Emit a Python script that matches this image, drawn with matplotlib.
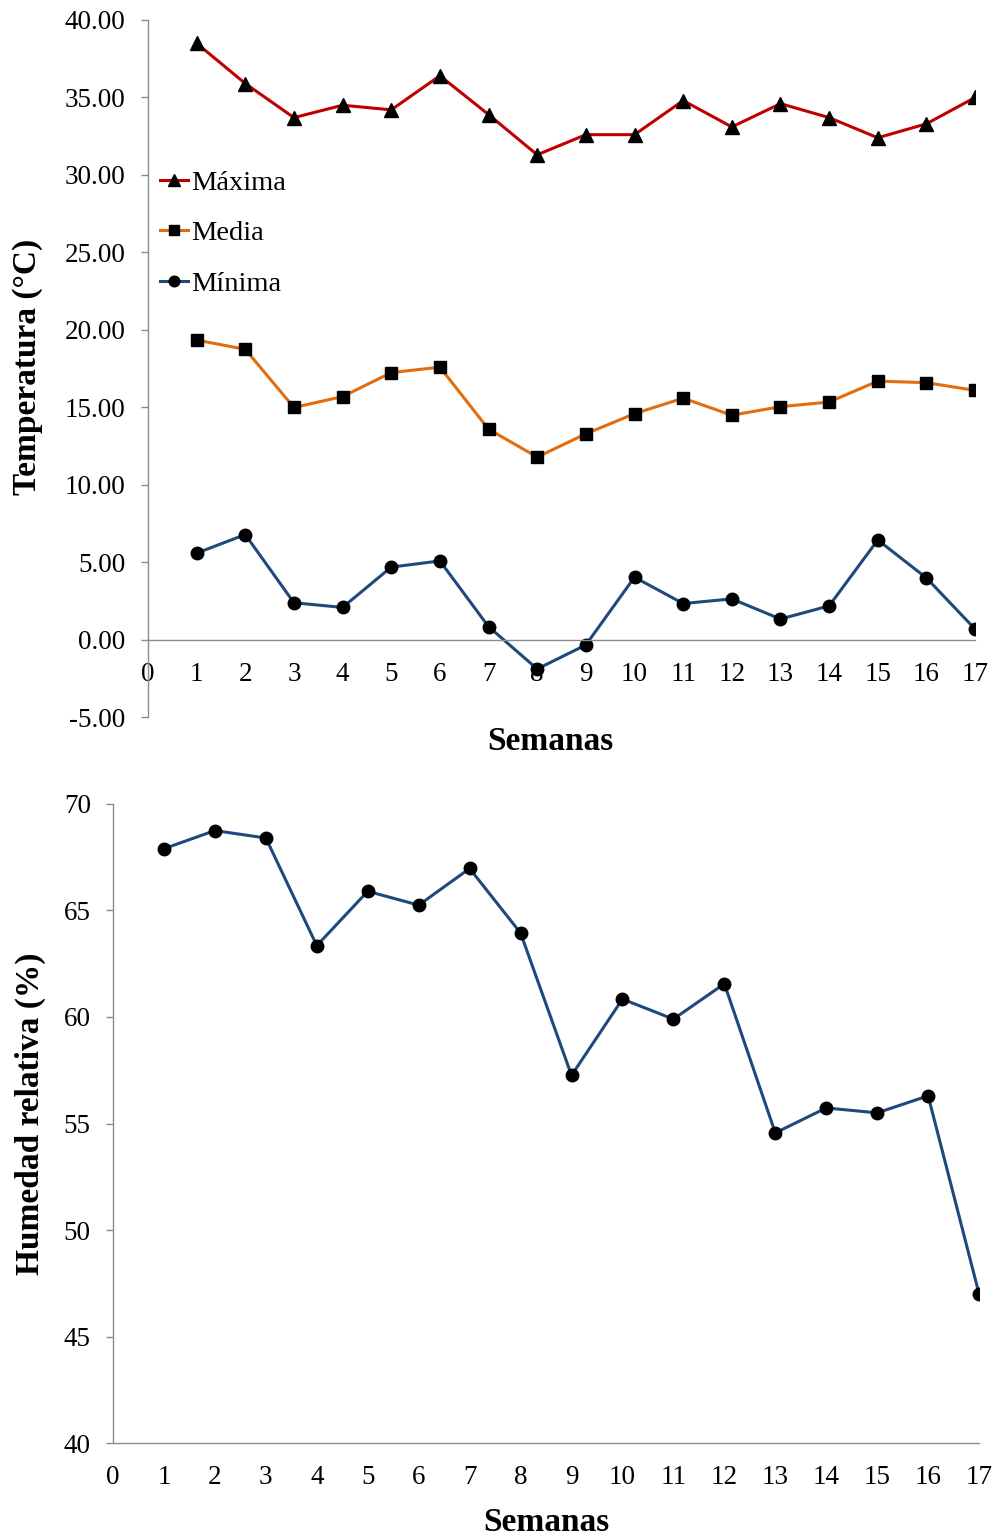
"""Weekly air temperature (max / mean / min) and relative humidity."""

import numpy as np
import matplotlib
matplotlib.use("Agg")
import matplotlib.pyplot as plt
from matplotlib.ticker import FuncFormatter

plt.rcParams["font.family"] = ["Liberation Serif", "DejaVu Serif"]
plt.rcParams["axes.unicode_minus"] = False

semanas = np.arange(1, 18)

t_max = [38.5, 35.9, 33.7, 34.5, 34.2, 36.4, 33.9, 31.3, 32.6, 32.6,
         34.8, 33.1, 34.6, 33.7, 32.4, 33.3, 35.0]
t_media = [19.35, 18.75, 15.0, 15.7, 17.25, 17.6, 13.6, 11.8, 13.3, 14.6,
           15.6, 14.5, 15.05, 15.35, 16.7, 16.6, 16.1]
t_min = [5.6, 6.8, 2.4, 2.1, 4.7, 5.1, 0.86, -1.87, -0.32, 4.05,
         2.35, 2.65, 1.35, 2.2, 6.45, 4.0, 0.7]
humedad = [67.9, 68.75, 68.4, 63.35, 65.9, 65.25, 66.97, 63.94, 57.26, 60.84,
           59.9, 61.56, 54.56, 55.73, 55.5, 56.3, 47.0]

ROJO = "#C00000"
NARANJA = "#E46C0A"
AZUL = "#1F497D"
GRIS = "#8C8C8C"
TICK_FS = 19.5
LABEL_FS = 24


def style_axes(ax):
    for side in ("top", "right"):
        ax.spines[side].set_visible(False)
    for side in ("left", "bottom"):
        ax.spines[side].set_color(GRIS)
        ax.spines[side].set_linewidth(1.0)
    ax.tick_params(axis="y", direction="out", length=5, width=1.0,
                   color=GRIS, labelsize=TICK_FS, pad=11)
    ax.tick_params(axis="x", length=0, labelsize=TICK_FS, pad=16)
    ax.set_xlim(0, 17)
    ax.set_xticks(range(0, 18))


fig = plt.figure(figsize=(9.95, 15.36), dpi=100)

# --- temperature panel ---
ax1 = fig.add_axes([0.1487, 0.5329, 0.98 - 0.1487, 0.987 - 0.5329])
ax1.plot(semanas, t_max, color=ROJO, lw=2.2, marker="^", ms=9.5,
         mfc="black", mec="black", label="Máxima")
ax1.plot(semanas, t_media, color=NARANJA, lw=2.2, marker="s", ms=8.5,
         mfc="black", mec="black", label="Media")
ax1.plot(semanas, t_min, color=AZUL, lw=2.2, marker="o", ms=9,
         mfc="black", mec="black", label="Mínima")
style_axes(ax1)
ax1.set_ylim(-5, 40)
ax1.set_yticks(np.arange(-5, 41, 5))
ax1.yaxis.set_major_formatter(FuncFormatter(lambda v, _: f"{v:.2f}"))
ax1.spines["bottom"].set_position(("data", 0))
ax1.set_ylabel("Temperatura (°C)", fontsize=LABEL_FS, fontweight="bold", va="center")
ax1.yaxis.set_label_coords(-0.146, 0.5025)
ax1.set_xlabel("Semanas", fontsize=LABEL_FS, fontweight="bold")
ax1.xaxis.set_label_coords(0.487, -0.012)
ax1.legend(loc="upper left", bbox_to_anchor=(0.0145, 0.785), frameon=False,
           fontsize=20.5, handlelength=1.0, handletextpad=0.08, labelspacing=0.86,
           borderpad=0, borderaxespad=0, numpoints=1, markerscale=0.85)

# --- relative humidity panel ---
ax2 = fig.add_axes([0.1136, 0.0605, 0.984 - 0.1136, 0.4766 - 0.0605])
ax2.plot(semanas, humedad, color=AZUL, lw=2.2, marker="o", ms=9,
         mfc="black", mec="black")
style_axes(ax2)
ax2.set_ylim(40, 70)
ax2.set_yticks(np.arange(40, 71, 5))
ax2.set_ylabel("Humedad relativa (%)", fontsize=LABEL_FS, fontweight="bold", va="center")
ax2.yaxis.set_label_coords(-0.096, 0.516)
ax2.set_xlabel("Semanas", fontsize=LABEL_FS, fontweight="bold")
ax2.xaxis.set_label_coords(0.5, -0.1)

fig.savefig("out.png", dpi=100)
